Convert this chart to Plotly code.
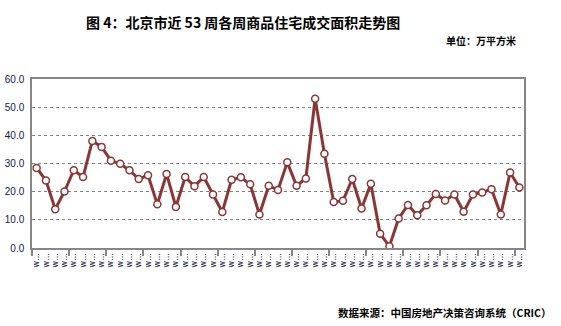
import plotly.graph_objects as go

weeks = list(range(1, 54))
tick_labels = ["w…"] * 53
values = [28.4, 24.0, 13.8, 20.1, 27.6, 25.2, 38.0, 35.9, 31.0, 29.9,
          27.6, 24.5, 25.8, 15.5, 26.3, 14.6, 25.2, 21.9, 25.2, 19.0,
          12.8, 24.2, 25.1, 22.6, 11.9, 22.1, 20.6, 30.4, 22.1, 24.7,
          53.0, 33.5, 16.3, 16.8, 24.5, 14.0, 22.8, 5.1, 0.6, 10.5,
          15.3, 11.6, 15.2, 19.2, 16.9, 19.0, 12.9, 19.0, 19.7, 20.9,
          11.9, 26.8, 21.5]
y_ticks = [0, 10, 20, 30, 40, 50, 60]

title = "图 4：北京市近 53 周各周商品住宅成交面积走势图"
unit = "单位：万平方米"
source = "数据来源：中国房地产决策咨询系统（CRIC）"

xpos = [i for i in range(len(values))]
line_color = "#8B3535"

fig = go.Figure()
fig.add_trace(go.Scatter(
    x=xpos, y=values, mode="lines+markers",
    line=dict(color=line_color, width=3),
    marker=dict(size=7, color="white", line=dict(color=line_color, width=1.5)),
    showlegend=False, hoverinfo="y"))

cjk = "Noto Sans CJK SC"
fig.update_layout(
    width=561, height=326,
    margin=dict(l=32, r=37, t=79, b=78),
    paper_bgcolor="white", plot_bgcolor="white",
    xaxis=dict(
        range=[-0.5, len(values) - 0.5], automargin=False,
        tickmode="array", tickvals=xpos, ticktext=tick_labels,
        tickangle=-90, ticks="", showgrid=False, zeroline=False,
        tickfont=dict(family="DejaVu Sans", size=8, color="#0a0a40"),
        showline=True, linecolor="#868686", linewidth=1.5, mirror=True,
        minor=dict(tickmode="array",
                   tickvals=[-0.5 + 4 * k for k in range(14)],
                   ticks="outside", ticklen=6, tickcolor="#868686", tickwidth=1.5,
                   showgrid=False),
    ),
    yaxis=dict(
        range=[0, 60], tickmode="array", tickvals=y_ticks, automargin=False,
        ticktext=[f"{v:.1f}" for v in y_ticks],
        tickfont=dict(family="Liberation Sans", size=10, color="#10204a"),
        showgrid=True, gridcolor="#7f7f7f", griddash="dot", gridwidth=1,
        zeroline=False, ticks="", ticklabelstandoff=4,
        showline=True, linecolor="#868686", linewidth=1.5, mirror=True,
    ),
    annotations=[
        dict(text=f"<b>{title}</b>", xref="paper", yref="paper",
             x=(243 - 32) / 492, y=1 + (79 - 22) / 169, xanchor="center", yanchor="middle",
             showarrow=False, font=dict(family=cjk, size=14, color="black")),
        dict(text=f"<b>{unit}</b>", xref="paper", yref="paper",
             x=(518 - 32) / 492, y=1 + (79 - 41) / 169, xanchor="right", yanchor="middle",
             showarrow=False, font=dict(family=cjk, size=10, color="black")),
        dict(text=f"<b>{source}</b>", xref="paper", yref="paper",
             x=(553 - 32) / 492, y=-(312 - 248) / 169, xanchor="right", yanchor="middle",
             showarrow=False, font=dict(family=cjk, size=10.5, color="black")),
    ],
)

fig.write_html("out.html")
